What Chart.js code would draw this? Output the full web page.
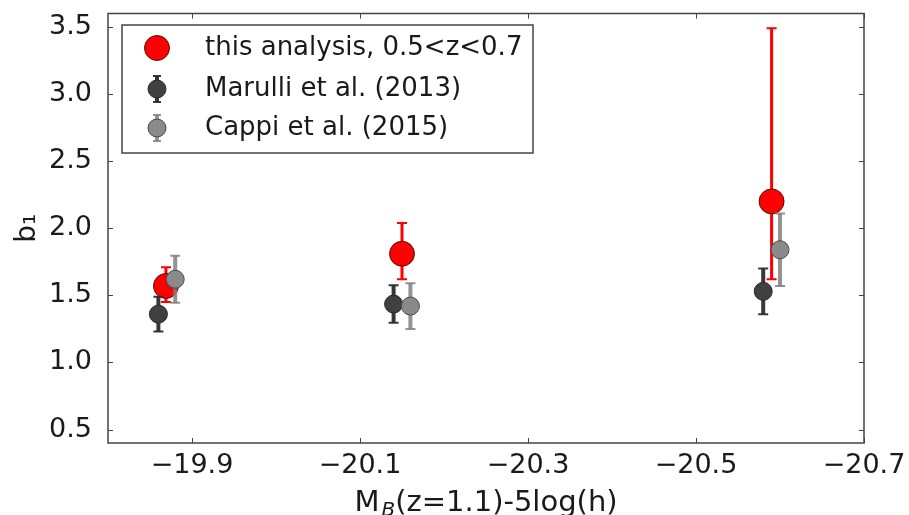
<!DOCTYPE html>
<html>
<head>
<meta charset="utf-8">
<script src="https://cdn.jsdelivr.net/npm/chart.js@4/dist/chart.umd.min.js"></script>
<style>
  html, body { margin: 0; padding: 0; background: #fff; }
  #wrap { width: 909px; height: 515px; }
</style>
</head>
<body>
<div id="wrap"><canvas id="bias-chart" width="909" height="515"></canvas></div>
<script>
// magnitude bins and linear bias, three samples
var seriesLabels = ['this analysis, 0.5<z<0.7', 'Marulli et al. (2013)', 'Cappi et al. (2015)'];

var thisMag = [-19.869, -20.15, -20.59];
var thisBias = [1.57, 1.81, 2.20];
var thisErrLow = [0.12, 0.19, 0.58];
var thisErrHigh = [0.14, 0.23, 1.29];

var marulliMag = [-19.86, -20.14, -20.58];
var marulliBias = [1.36, 1.435, 1.53];
var marulliErr = [0.13, 0.14, 0.17];

var cappiMag = [-19.88, -20.16, -20.60];
var cappiBias = [1.62, 1.42, 1.84];
var cappiErr = [0.175, 0.17, 0.27];

var xTickValues = [-19.9, -20.1, -20.3, -20.5, -20.7];
var yTickValues = [0.5, 1.0, 1.5, 2.0, 2.5, 3.0, 3.5];

var FONT = '"DejaVu Sans", sans-serif';
var TEXT = '#1a1a1a';

function toPoints(xs, ys) {
    return xs.map(function (x, i) { return { x: x, y: ys[i] }; });
}

function drawBar(ctx, px, top, bot, capHalf, width) {
    ctx.lineWidth = width;
    ctx.beginPath();
    ctx.moveTo(px, top);
    ctx.lineTo(px, bot);
    ctx.stroke();
    ctx.lineWidth = 2;
    ctx.beginPath();
    ctx.moveTo(px - capHalf, top); ctx.lineTo(px + capHalf, top);
    ctx.moveTo(px - capHalf, bot); ctx.lineTo(px + capHalf, bot);
    ctx.stroke();
}

// vertical error bars, drawn just under each dataset's markers
var errorBars = {
    id: 'errorBars',
    beforeDatasetDraw: function (chart, args) {
        var ds = chart.data.datasets[args.index];
        var ctx = chart.ctx;
        var xs = chart.scales.x, ys = chart.scales.y;
        ctx.save();
        ctx.strokeStyle = ds.errColor;
        ds.data.forEach(function (p, i) {
            drawBar(ctx, xs.getPixelForValue(p.x),
                ys.getPixelForValue(p.y + ds.errHigh[i]),
                ys.getPixelForValue(p.y - ds.errLow[i]),
                ds.capHalf, ds.errWidth);
        });
        ctx.restore();
    }
};

// axes frame with inward ticks, legend box and the x-axis title
var frame = {
    id: 'frame',
    afterDraw: function (chart) {
        var ctx = chart.ctx;
        var a = chart.chartArea;
        var xs = chart.scales.x, ys = chart.scales.y;
        ctx.save();
        ctx.strokeStyle = '#444';
        ctx.lineWidth = 1.5;
        ctx.strokeRect(a.left, a.top, a.right - a.left, a.bottom - a.top);
        ctx.lineWidth = 1;
        ctx.beginPath();
        xTickValues.forEach(function (v) {
            var px = Math.round(xs.getPixelForValue(v)) + 0.5;
            ctx.moveTo(px, a.bottom); ctx.lineTo(px, a.bottom - 5);
            ctx.moveTo(px, a.top); ctx.lineTo(px, a.top + 5);
        });
        yTickValues.forEach(function (v) {
            var py = Math.round(ys.getPixelForValue(v)) + 0.5;
            ctx.moveTo(a.left, py); ctx.lineTo(a.left + 5, py);
            ctx.moveTo(a.right, py); ctx.lineTo(a.right - 5, py);
        });
        ctx.stroke();

        // legend
        var lx = 122, ly = 25, lw = 411, lh = 128;
        ctx.fillStyle = '#fff';
        ctx.fillRect(lx, ly, lw, lh);
        ctx.strokeStyle = '#444';
        ctx.lineWidth = 1.5;
        ctx.strokeRect(lx, ly, lw, lh);
        var rows = [48, 89, 128];
        chart.data.datasets.forEach(function (ds, i) {
            var cx = 157, cy = rows[i];
            if (ds.legendErr) {
                ctx.strokeStyle = ds.errColor;
                drawBar(ctx, cx, cy - 13, cy + 13, 4, ds.errWidth);
            }
            ctx.beginPath();
            ctx.arc(cx, cy, ds.legendRadius, 0, Math.PI * 2);
            ctx.fillStyle = ds.backgroundColor;
            ctx.fill();
            ctx.strokeStyle = ds.borderColor;
            ctx.lineWidth = 1;
            ctx.stroke();
            ctx.fillStyle = TEXT;
            ctx.font = '26px ' + FONT;
            ctx.textBaseline = 'middle';
            ctx.textAlign = 'left';
            ctx.fillText(ds.label, 205, cy);
        });

        // x title: M_B(z=1.1)-5log(h)
        ctx.fillStyle = TEXT;
        ctx.textBaseline = 'alphabetic';
        ctx.textAlign = 'left';
        var big = '29px ' + FONT, sub = 'italic 20px ' + FONT;
        var rest = '(z=1.1)-5log(h)';
        ctx.font = big;
        var w1 = ctx.measureText('M').width;
        var w3 = ctx.measureText(rest).width;
        ctx.font = sub;
        var w2 = ctx.measureText('B').width;
        var total = w1 + 2 + w2 + w3;
        var x0 = (a.left + a.right) / 2 - total / 2, base = 511;
        ctx.font = big; ctx.fillText('M', x0, base);
        ctx.font = sub; ctx.fillText('B', x0 + w1 + 2, base + 5);
        ctx.font = big; ctx.fillText(rest, x0 + w1 + 2 + w2, base);
        ctx.restore();
    }
};

new Chart(document.getElementById('bias-chart'), {
    type: 'scatter',
    data: {
        datasets: [
            {
                label: seriesLabels[0],
                data: toPoints(thisMag, thisBias),
                errLow: thisErrLow, errHigh: thisErrHigh,
                errColor: '#ff0000', errWidth: 3, capHalf: 5,
                backgroundColor: '#ff0000', borderColor: 'rgba(40,0,0,0.8)',
                pointRadius: 12.5, borderWidth: 1, legendRadius: 12.5, legendErr: false,
                order: 3
            },
            {
                label: seriesLabels[1],
                data: toPoints(marulliMag, marulliBias),
                errLow: marulliErr, errHigh: marulliErr,
                errColor: 'rgba(45,45,45,0.95)', errWidth: 4, capHalf: 5,
                backgroundColor: '#404040', borderColor: '#2a2a2a',
                pointRadius: 9, borderWidth: 1, legendRadius: 9, legendErr: true,
                order: 2
            },
            {
                label: seriesLabels[2],
                data: toPoints(cappiMag, cappiBias),
                errLow: cappiErr, errHigh: cappiErr,
                errColor: 'rgba(128,128,128,0.85)', errWidth: 4, capHalf: 5,
                backgroundColor: '#8a8a8a', borderColor: '#4a4a4a',
                pointRadius: 9, borderWidth: 1, legendRadius: 9, legendErr: true,
                order: 1
            }
        ]
    },
    options: {
        responsive: false,
        animation: false,
        devicePixelRatio: 1,
        layout: { padding: { left: 0, top: 13, right: 45, bottom: 0 } },
        plugins: { legend: { display: false }, tooltip: { enabled: false } },
        scales: {
            x: {
                type: 'linear',
                reverse: true,
                min: -20.7,
                max: -19.8,
                grid: { display: false },
                border: { display: false },
                afterBuildTicks: function (scale) {
                    scale.ticks = xTickValues.map(function (v) { return { value: v }; });
                },
                afterFit: function (scale) {
                    scale.height = 72;
                    scale.paddingLeft = 0;
                    scale.paddingRight = 0;
                },
                ticks: {
                    color: TEXT,
                    padding: 0,
                    maxRotation: 0,
                    autoSkip: false,
                    font: { family: FONT, size: 27, lineHeight: 1.1 },
                    callback: function (v) { return '\u2212' + Math.abs(v).toFixed(1); }
                }
            },
            y: {
                min: 0.4,
                max: 3.6,
                grid: { display: false },
                border: { display: false },
                afterBuildTicks: function (scale) {
                    scale.ticks = yTickValues.map(function (v) { return { value: v }; });
                },
                afterFit: function (scale) {
                    scale.width = 108;
                    scale.paddingTop = 0;
                    scale.paddingBottom = 0;
                },
                title: {
                    display: true,
                    text: 'b\u2081',
                    color: TEXT,
                    font: { family: FONT, size: 28 },
                    padding: { top: 11, bottom: 0 }
                },
                ticks: {
                    color: TEXT,
                    padding: 8,
                    font: { family: FONT, size: 27 },
                    callback: function (v) { return v.toFixed(1); }
                }
            }
        }
    },
    plugins: [errorBars, frame]
});
</script>
</body>
</html>
